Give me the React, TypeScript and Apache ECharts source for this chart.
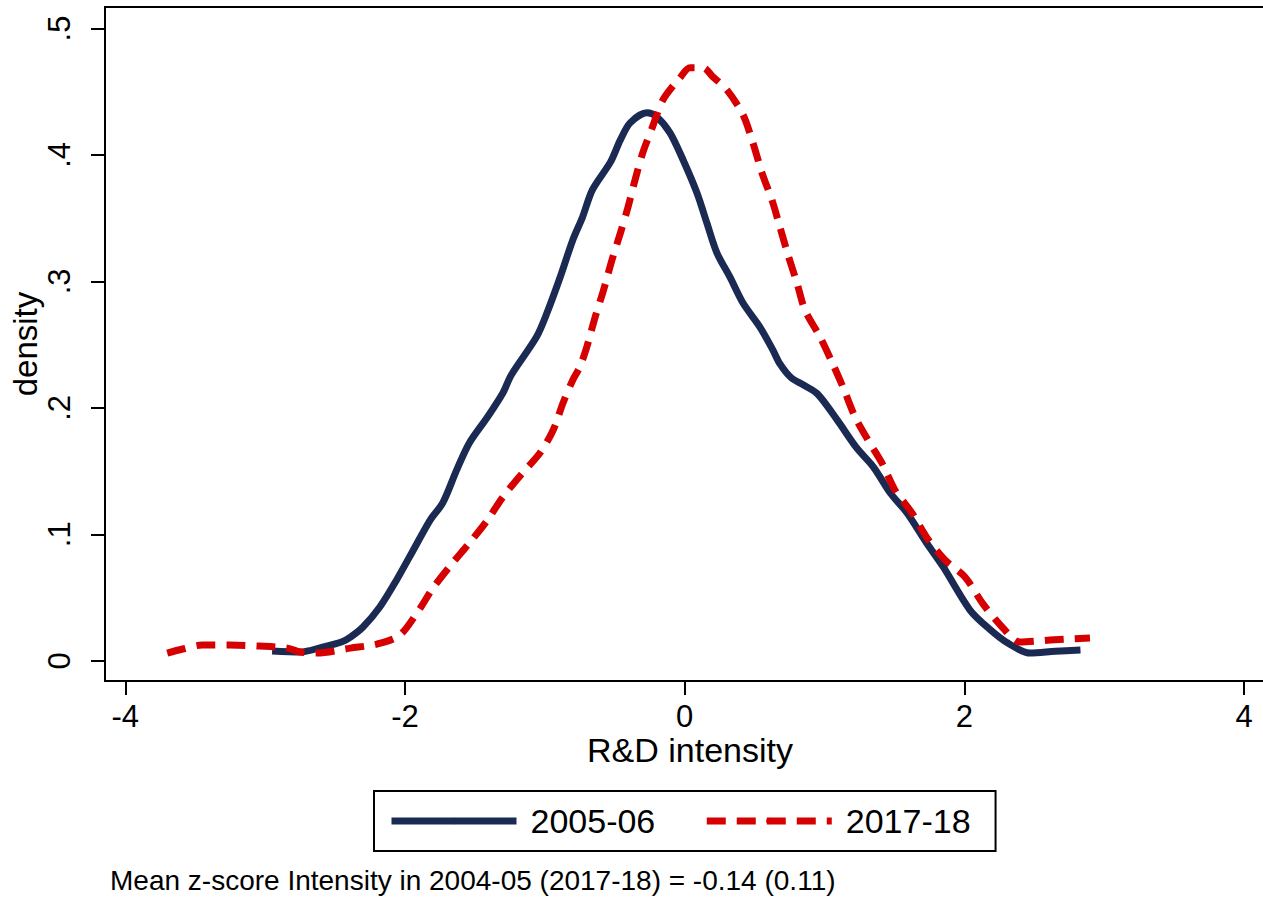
import React, { useEffect, useRef } from "react";
import * as echarts from "echarts";

const xTicks = [-4, -2, 0, 2, 4];
const yTicks = [0, 0.1, 0.2, 0.3, 0.4, 0.5];
const yTickLabels = ["0", ".1", ".2", ".3", ".4", ".5"];
const seriesNames = ["2005-06", "2017-18"];
const xTitle = "R&D intensity";
const yTitle = "density";
const note = "Mean z-score Intensity in 2004-05 (2017-18) = -0.14 (0.11)";

// 2005-06 kernel density
const x0506 = [
  -2.95, -2.75, -2.59, -2.45, -2.39, -2.3, -2.18, -2.06, -1.94, -1.82, -1.73, -1.63, -1.54,
  -1.41, -1.3, -1.24, -1.06, -0.985, -0.89, -0.8, -0.73, -0.66, -0.53, -0.46, -0.39, -0.27,
  -0.2, -0.105, -0.012, 0.088, 0.159, 0.231, 0.324, 0.417, 0.538, 0.631, 0.68, 0.76, 0.85,
  0.95, 1.09, 1.23, 1.35, 1.47, 1.59, 1.73, 1.85, 2.04, 2.18, 2.31, 2.47, 2.65, 2.83,
];
const d0506 = [
  0.0077, 0.0069, 0.0108, 0.015, 0.0187, 0.0267, 0.0425, 0.0639, 0.0876, 0.1113, 0.1248,
  0.1509, 0.1722, 0.1928, 0.2118, 0.226, 0.256, 0.275, 0.3035, 0.3328, 0.351, 0.3724, 0.3945,
  0.4119, 0.4254, 0.4333, 0.4301, 0.4175, 0.3962, 0.3699, 0.3461, 0.3224, 0.3034, 0.2829,
  0.2639, 0.2457, 0.235, 0.224, 0.218, 0.211, 0.1905, 0.1683, 0.1532, 0.1327, 0.1169, 0.0931,
  0.074, 0.0401, 0.025, 0.014, 0.0061, 0.0075, 0.0085,
];

// 2017-18 kernel density
const x1718 = [
  -3.7, -3.59, -3.45, -3.25, -3.04, -2.84, -2.75, -2.63, -2.39, -2.2, -2.04, -1.91, -1.8,
  -1.66, -1.54, -1.41, -1.3, -1.16, -1.035, -0.94, -0.87, -0.8, -0.75, -0.7, -0.64, -0.58,
  -0.52, -0.46, -0.405, -0.355, -0.3, -0.23, -0.155, -0.034, 0.038, 0.131, 0.202, 0.302,
  0.417, 0.488, 0.553, 0.624, 0.681, 0.739, 0.803, 0.86, 0.968, 1.053, 1.132, 1.218, 1.31,
  1.41, 1.503, 1.625, 1.733, 1.861, 2.004, 2.133, 2.276, 2.398, 2.612, 2.898,
];
const d1718 = [
  0.0061, 0.0093, 0.0124, 0.0124, 0.0116, 0.01, 0.0069, 0.0061, 0.01, 0.0132, 0.02, 0.0385,
  0.0575, 0.0773, 0.0931, 0.1113, 0.1295, 0.1485, 0.1643, 0.1825, 0.2039, 0.2221, 0.2323,
  0.2481, 0.2718, 0.2932, 0.317, 0.3382, 0.3588, 0.3802, 0.4016, 0.4222, 0.4436, 0.461,
  0.4689, 0.4689, 0.4618, 0.4515, 0.4318, 0.4096, 0.3857, 0.3644, 0.343, 0.3209, 0.2987,
  0.2774, 0.256, 0.2362, 0.2164, 0.1929, 0.1747, 0.1565, 0.1351, 0.1169, 0.0971, 0.0797,
  0.0663, 0.045, 0.0259, 0.0148, 0.0164, 0.018,
];

const FONT = "'Liberation Sans', Arial, sans-serif";
const NAVY = "#1b2a52";
const RED = "#d60000";

export default function App() {
  const ref = useRef<HTMLDivElement>(null);
  useEffect(() => {
    if (!ref.current) return;
    const chart = echarts.init(ref.current, null, { renderer: "svg" });
    const pairs = (xs: number[], ys: number[]) => xs.map((x, i) => [x, ys[i]]);
    chart.setOption({
      animation: false,
      backgroundColor: "#ffffff",
      textStyle: { fontFamily: FONT },
      grid: {
        left: 105,
        top: 7,
        width: 1170,
        height: 674,
        show: true,
        borderColor: "#000",
        borderWidth: 2,
        containLabel: false,
        outerBoundsMode: "none",
      },
      xAxis: {
        type: "value",
        min: -4.145,
        max: 4.221,
        name: xTitle,
        nameLocation: "middle",
        nameGap: 52,
        nameMoveOverlap: false,
        nameTextStyle: { fontSize: 34, color: "#000", fontFamily: FONT },
        splitLine: { show: false },
        axisLine: { show: true, onZero: false, lineStyle: { color: "#000", width: 2 } },
        axisTick: { show: true, length: 14, lineStyle: { color: "#000", width: 2 }, customValues: xTicks },
        axisLabel: { fontSize: 31, color: "#000", margin: 20, fontFamily: FONT, customValues: xTicks, formatter: (v: number) => String(v) },
      },
      yAxis: {
        type: "value",
        min: -0.016,
        max: 0.517,
        name: yTitle,
        nameLocation: "middle",
        nameGap: 63,
        nameMoveOverlap: false,
        nameRotate: 90,
        nameTextStyle: { fontSize: 33, color: "#000", fontFamily: FONT },
        splitLine: { show: false },
        axisLine: { show: true, onZero: false, lineStyle: { color: "#000", width: 2 } },
        axisTick: { show: true, length: 14, lineStyle: { color: "#000", width: 2 }, customValues: yTicks },
        axisLabel: {
          fontSize: 31,
          color: "#000",
          rotate: 90,
          margin: 30,
          fontFamily: FONT,
          customValues: yTicks,
          formatter: (v: number) => {
            const i = yTicks.findIndex((t) => Math.abs(t - v) < 1e-9);
            return i >= 0 ? yTickLabels[i] : "";
          },
        },
      },
      legend: {
        show: true,
        left: 374,
        top: 791,
        orient: "horizontal",
        backgroundColor: "#fff",
        borderColor: "#000",
        borderWidth: 2,
        borderRadius: 0,
        padding: [13, 25, 13, 14],
        itemWidth: 125,
        itemHeight: 8,
        itemGap: 48,
        lineStyle: { width: 7 },
        textStyle: { fontSize: 34, color: "#000", fontFamily: FONT, padding: [0, 0, 0, 9] },
        data: seriesNames,
      },
      graphic: [
        {
          type: "text",
          left: 110,
          top: 866,
          style: { text: note, fontSize: 28, fill: "#000", fontFamily: FONT },
        },
      ],
      series: [
        {
          name: seriesNames[0],
          type: "line",
          data: pairs(x0506, d0506),
          showSymbol: false,
          symbol: "none",
          smooth: 0.3,
          lineStyle: { color: NAVY, width: 7, cap: "butt", join: "round" },
          itemStyle: { color: NAVY },
        },
        {
          name: seriesNames[1],
          type: "line",
          data: pairs(x1718, d1718),
          showSymbol: false,
          symbol: "none",
          smooth: 0.3,
          lineStyle: { color: RED, width: 7, type: [19, 11], cap: "butt", join: "round" },
          itemStyle: { color: RED },
        },
      ],
    });
    return () => chart.dispose();
  }, []);
  return (
    <div
      ref={ref}
      style={{ position: "absolute", left: 0, top: 0, width: 1263, height: 897, background: "#fff" }}
    />
  );
}
